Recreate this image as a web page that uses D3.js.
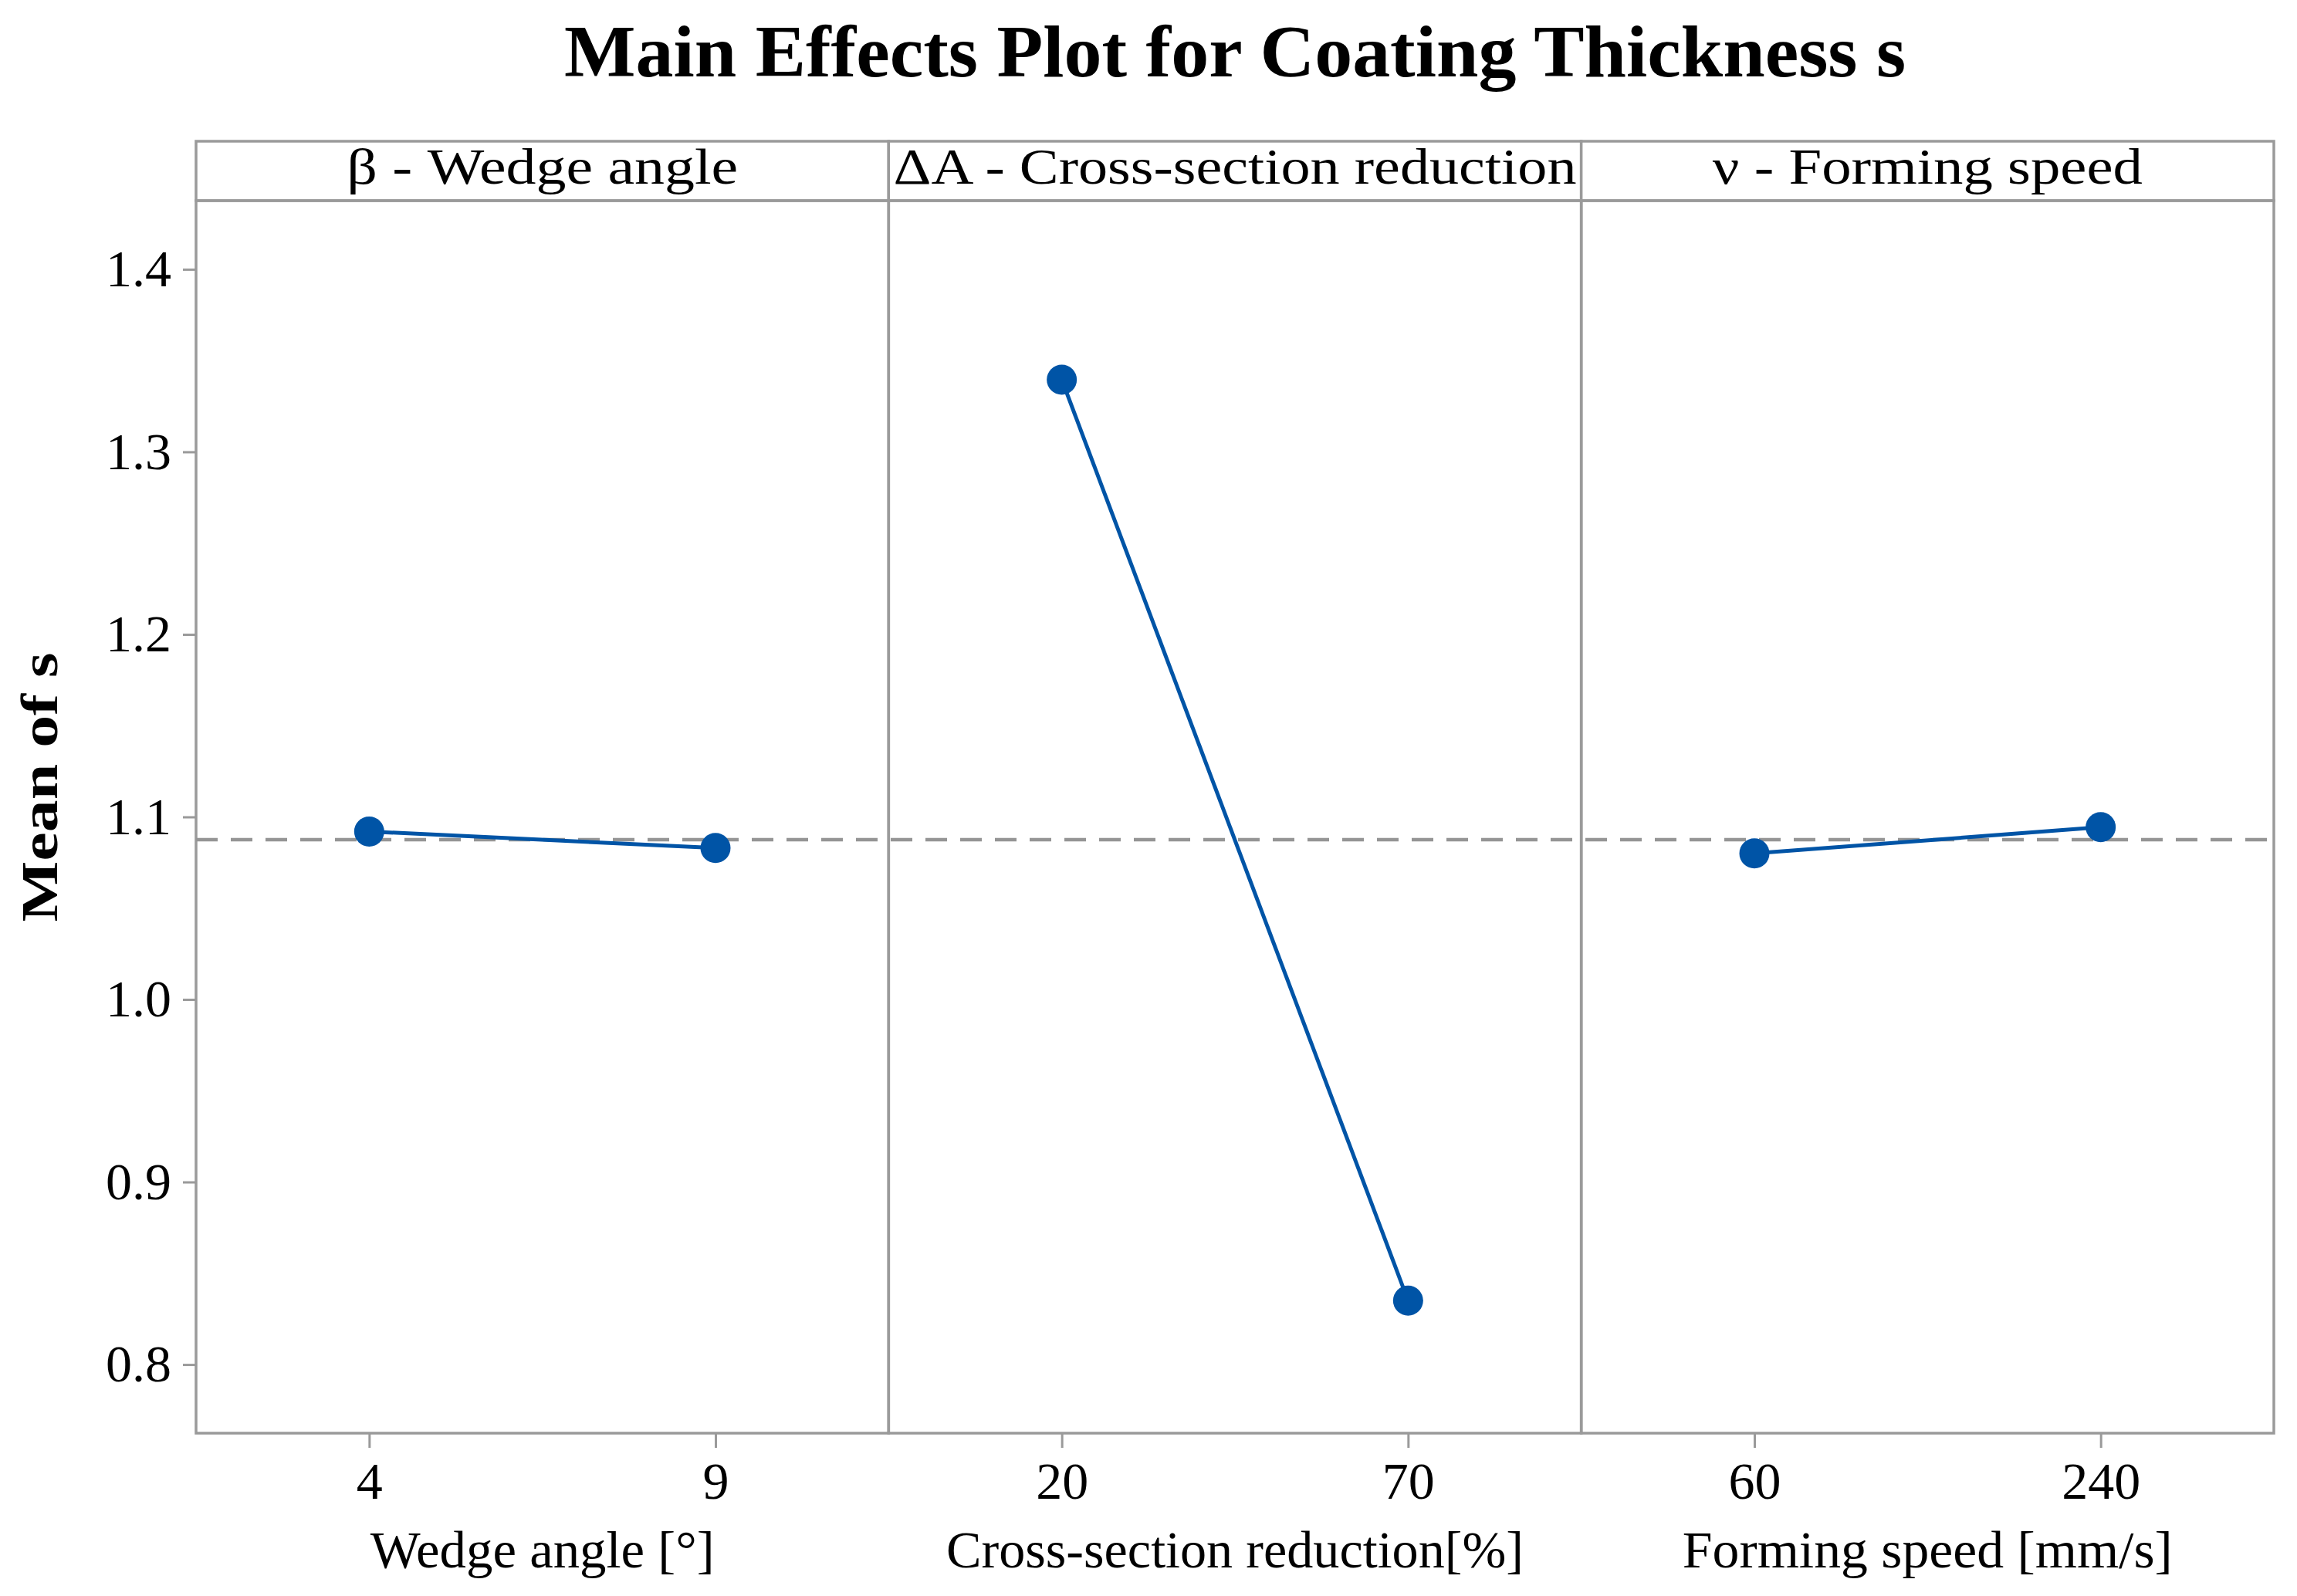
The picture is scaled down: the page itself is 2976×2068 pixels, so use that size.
<!DOCTYPE html>
<html>
<head>
<meta charset="utf-8">
<script src="https://cdn.jsdelivr.net/npm/d3@7"></script>
<style>
  html, body { margin: 0; padding: 0; background: #ffffff; }
  svg { display: block; }
  text { font-family: "Liberation Serif", "DejaVu Serif", serif; fill: #000; }
</style>
</head>
<body>
<svg id="chart" width="2976" height="2068"></svg>
<script>
// ---- data ----
const chartTitle = "Main Effects Plot for Coating Thickness s";
const yTitle = "Mean of s";
const factors = ["β - Wedge angle", "ΔA - Cross-section reduction", "ν - Forming speed"];
const axisTitles = ["Wedge angle [°]", "Cross-section reduction[%]", "Forming speed [mm/s]"];
const levelsWedge = ["4", "9"];
const levelsReduction = ["20", "70"];
const levelsSpeed = ["60", "240"];
const meansWedge = [1.092, 1.083];
const meansReduction = [1.3395, 0.835];
const meansSpeed = [1.080, 1.0944];
const grandMean = 1.0875;
const yTicks = [0.8, 0.9, 1.0, 1.1, 1.2, 1.3, 1.4];

const levels = [levelsWedge, levelsReduction, levelsSpeed];
const means = [meansWedge, meansReduction, meansSpeed];

// ---- layout ----
const L = 254, R = 2946, stripTop = 183, plotTop = 260, plotBottom = 1857;
const gray = "#9a9a9a";
const blue = "#0054a6";
const fs = 68;
const stripWidths = [507, 885, 557];
const axisTitleWidths = [446, 748, 635];

const svg = d3.select("#chart");

const xBand = d3.scaleBand().domain(factors).range([L, R]).padding(0);
const y = d3.scaleLinear().domain([0.7624, 1.4376]).range([plotBottom, plotTop]);

// title
svg.append("text")
  .attr("x", (L + R) / 2).attr("y", 99)
  .attr("text-anchor", "middle")
  .attr("font-size", 96).attr("font-weight", "bold")
  .attr("textLength", 1738).attr("lengthAdjust", "spacingAndGlyphs")
  .text(chartTitle);

// y-axis title
svg.append("text")
  .attr("transform", `translate(74, ${(stripTop + plotBottom) / 2}) rotate(-90)`)
  .attr("text-anchor", "middle")
  .attr("font-size", 68).attr("font-weight", "bold")
  .attr("textLength", 349).attr("lengthAdjust", "spacingAndGlyphs")
  .text(yTitle);

const gMean = svg.append("g");

factors.forEach((f, i) => {
  const x0 = xBand(f), w = xBand.bandwidth();
  const g = svg.append("g");
  // strip
  g.append("rect").attr("x", x0).attr("y", stripTop).attr("width", w).attr("height", plotTop - stripTop)
    .attr("fill", "#fff").attr("stroke", gray).attr("stroke-width", 3.5);
  g.append("text")
    .attr("x", x0 + w / 2).attr("y", 238)
    .attr("text-anchor", "middle").attr("font-size", 66)
    .attr("textLength", stripWidths[i]).attr("lengthAdjust", "spacingAndGlyphs")
    .text(f);
  // panel body
  g.append("rect").attr("x", x0).attr("y", plotTop).attr("width", w).attr("height", plotBottom - plotTop)
    .attr("fill", "none").attr("stroke", gray).attr("stroke-width", 3.5);

  // x axis
  const xp = d3.scalePoint().domain(levels[i]).range([x0, x0 + w]).padding(0.5);
  const ax = svg.append("g").attr("transform", `translate(0, ${plotBottom})`)
    .call(d3.axisBottom(xp).tickSize(19).tickPadding(18));
  ax.select(".domain").remove();
  ax.selectAll(".tick line").attr("stroke", gray).attr("stroke-width", 3);
  ax.selectAll(".tick text").attr("font-size", fs).attr("fill", "#000")
    .attr("font-family", "Liberation Serif, DejaVu Serif, serif");

  svg.append("text")
    .attr("x", x0 + w / 2).attr("y", 2031)
    .attr("text-anchor", "middle").attr("font-size", fs)
    .attr("textLength", axisTitleWidths[i]).attr("lengthAdjust", "spacingAndGlyphs")
    .text(axisTitles[i]);

  // data
  const pts = levels[i].map((lv, j) => ({ lv, v: means[i][j] }));
  const line = d3.line().x(d => xp(d.lv)).y(d => y(d.v));
  const dg = svg.append("g").attr("class", "data");
  dg.append("path").datum(pts).attr("d", line)
    .attr("fill", "none").attr("stroke", blue).attr("stroke-width", 5);
  dg.selectAll("circle").data(pts).join("circle")
    .attr("cx", d => xp(d.lv)).attr("cy", d => y(d.v)).attr("r", 19.5)
    .attr("fill", blue);
});

// dashed mean line across all panels, drawn below data
gMean.raise();
gMean.append("line")
  .attr("x1", L).attr("x2", R).attr("y1", y(grandMean)).attr("y2", y(grandMean))
  .attr("stroke", "#959595").attr("stroke-width", 4.5).attr("stroke-dasharray", "28 17");
svg.selectAll("g.data").raise();

// y axis
const ay = svg.append("g").attr("transform", `translate(${L}, 0)`)
  .call(d3.axisLeft(y).tickValues(yTicks).tickFormat(d3.format(".1f")).tickSize(17).tickPadding(15));
ay.select(".domain").remove();
ay.selectAll(".tick line").attr("stroke", gray).attr("stroke-width", 3);
ay.selectAll(".tick text").attr("font-size", fs).attr("fill", "#000")
  .attr("font-family", "Liberation Serif, DejaVu Serif, serif");
</script>
</body>
</html>
